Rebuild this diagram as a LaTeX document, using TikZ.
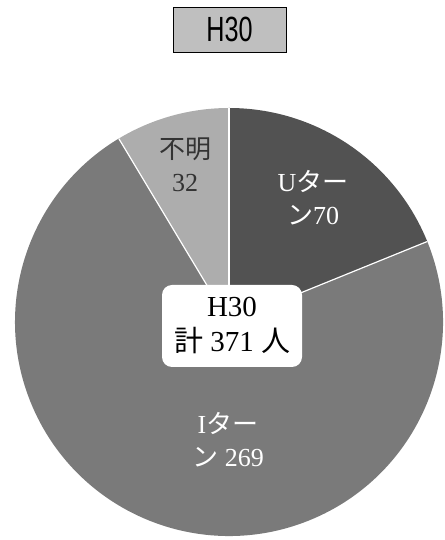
\documentclass[tikz,border=0pt]{standalone}
\usepackage{fontspec}
\setmainfont{Liberation Serif}
\newfontfamily\jp{Noto Sans CJK JP}
\newfontfamily\narrow[FakeStretch=0.72]{Liberation Sans}

\begin{document}
\begin{tikzpicture}[x=1pt, y=1pt,
    every node/.style={inner sep=0pt, align=center},
    slicelabel/.style={font=\fontsize{26}{33}\selectfont, text=white}]
    \useasboundingbox (0,0) rectangle (444,540);

    \node[draw, fill=black!25, minimum width=113pt, minimum height=45pt,
          font=\narrow\fontsize{35}{35}\selectfont] (title) at (229.5,510.5) {H30};

    \coordinate (O) at (229,218);
    \fill[black!68] (O) -- ++(90:214) arc[start angle=90, end angle=22.1, radius=214] -- cycle;
    \fill[black!52] (O) -- ++(22.1:214) arc[start angle=22.1, end angle=-239, radius=214] -- cycle;
    \fill[black!32] (O) -- ++(121:214) arc[start angle=121, end angle=90, radius=214] -- cycle;
    \draw[white, line width=1.2pt] (O) -- ++(90:214);
    \draw[white, line width=1.2pt] (O) -- ++(22.1:214);
    \draw[white, line width=1.2pt] (O) -- ++(121:214);

    \node[slicelabel] (uturn) at (313,342) {U{\jp ター}\\{\jp ン}70};
    \node[slicelabel] (iturn) at (228,100) {I{\jp ター}\\{\jp ン} 269};
    \node[slicelabel, text=black!80] (unknown) at (185,375) {{\jp 不明}\\32};

    \node[fill=white, rounded corners=10pt, minimum width=140pt, minimum height=82pt,
          font=\fontsize{29}{35}\selectfont] (total) at (232,214) {H30\\{\jp 計} 371 {\jp 人}};
\end{tikzpicture}
\end{document}
